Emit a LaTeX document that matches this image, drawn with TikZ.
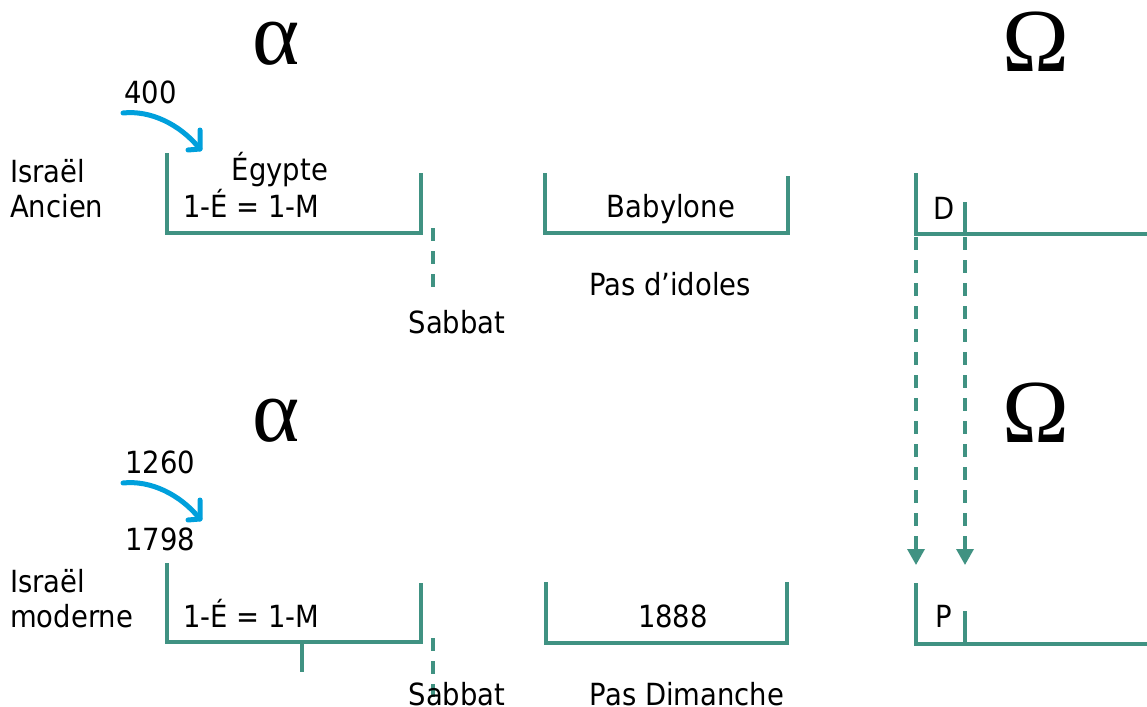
\documentclass[tikz,border=0pt]{standalone}
\usepackage{fontspec}
\setmainfont[FakeStretch=0.9]{DejaVu Sans}
\newfontfamily\greekfont{Liberation Serif}
\usetikzlibrary{arrows.meta}
\definecolor{tealline}{RGB}{64,146,130}
\definecolor{bluearc}{RGB}{0,160,220}
\begin{document}
\begin{tikzpicture}[x=1pt,y=-1pt,
  lbl/.style={inner sep=0pt, font=\fontsize{30.5}{36}\selectfont},
  greek/.style={inner sep=0pt, font=\greekfont\fontsize{90}{90}\selectfont, anchor=base},
  bracket/.style={draw=tealline, line width=3.4pt, line join=miter},
  dashline/.style={draw=tealline, line width=3.4pt, dash pattern=on 13pt off 10pt},
  tip/.style={-{Triangle[length=16pt,width=17pt]}},
  arc/.style={draw=bluearc, line width=5pt, line cap=round, line join=round}]
\useasboundingbox (0,0) rectangle (1147,706);

% Greek letters
\node[greek] (alpha1) at (276,65) {α};
\node[greek] (omega1) at (1036,72) {Ω};
\node[greek] (alpha2) at (276,441) {α};
\node[greek] (omega2) at (1036,442) {Ω};

% ---------- top row ----------
\node[lbl,anchor=base west] (isr1) at (10,182) {Israël};
\node[lbl,anchor=base west] (anc) at (10,217) {Ancien};
\node[lbl,anchor=base west] (n400) at (124,103) {400};
\node[lbl,anchor=base] (egy) at (280,180) {Égypte};
\node[lbl,anchor=base west] (eq1) at (183,217) {1-É = 1-M};
\node[lbl,anchor=base] (sab1) at (457,333) {Sabbat};
\node[lbl,anchor=base] (bab) at (671,217) {Babylone};
\node[lbl,anchor=base] (idol) at (670,295) {Pas d’idoles};
\node[lbl,anchor=base west] (D) at (933,219) {D};

\draw[bracket] (167,153) -- (167,233) -- (421,233) -- (421,173);
\draw[bracket] (545,173) -- (545,233) -- (788,233) -- (788,176);
\draw[bracket] (916,173) -- (916,234) -- (1152,234);
\draw[bracket] (965,202) -- (965,234);

\coordinate (s1a) at (433,228);
\coordinate (s1b) at (433,287);
\draw[dashline] (s1a) -- (s1b);

\coordinate (dA) at (916,237);
\coordinate (dB) at (965,237);
\coordinate (pA) at (916,565);
\coordinate (pB) at (965,565);
\draw[dashline,tip] (dA) -- (pA);
\draw[dashline,tip] (dB) -- (pB);

\coordinate (a1s) at (123,113);
\coordinate (a1e) at (200,149);
\draw[arc] (a1s) .. controls (150,110) and (180,124) .. (a1e);
\draw[arc] (200,130) -- (a1e) -- (188,150);

% ---------- bottom row ----------
\node[lbl,anchor=base west] (isr2) at (10,592) {Israël};
\node[lbl,anchor=base west] (mod) at (10,627) {moderne};
\node[lbl,anchor=base west] (n1260) at (125,473) {1260};
\node[lbl,anchor=base west] (n1798) at (125,550) {1798};
\node[lbl,anchor=base west] (eq2) at (183,627) {1-É = 1-M};
\node[lbl,anchor=base] (n1888) at (673,627) {1888};
\node[lbl,anchor=base west] (P) at (935,627) {P};

\draw[bracket] (167,563) -- (167,642) -- (421,642) -- (421,583);
\draw[bracket] (302,642) -- (302,672);
\draw[bracket] (546,582) -- (546,643) -- (787,643) -- (787,582);
\draw[bracket] (916,583) -- (916,644) -- (1152,644);
\draw[bracket] (965,611) -- (965,644);

\coordinate (s2a) at (433,638);
\coordinate (s2b) at (433,697);
\draw[dashline] (s2a) -- (s2b);

\node[lbl,anchor=base] (sab2) at (457,705) {Sabbat};
\node[lbl,anchor=base] (dim) at (687,705) {Pas Dimanche};

\coordinate (a2s) at (123,483);
\coordinate (a2e) at (200,519);
\draw[arc] (a2s) .. controls (150,480) and (180,494) .. (a2e);
\draw[arc] (200,500) -- (a2e) -- (188,520);
\end{tikzpicture}
\end{document}
